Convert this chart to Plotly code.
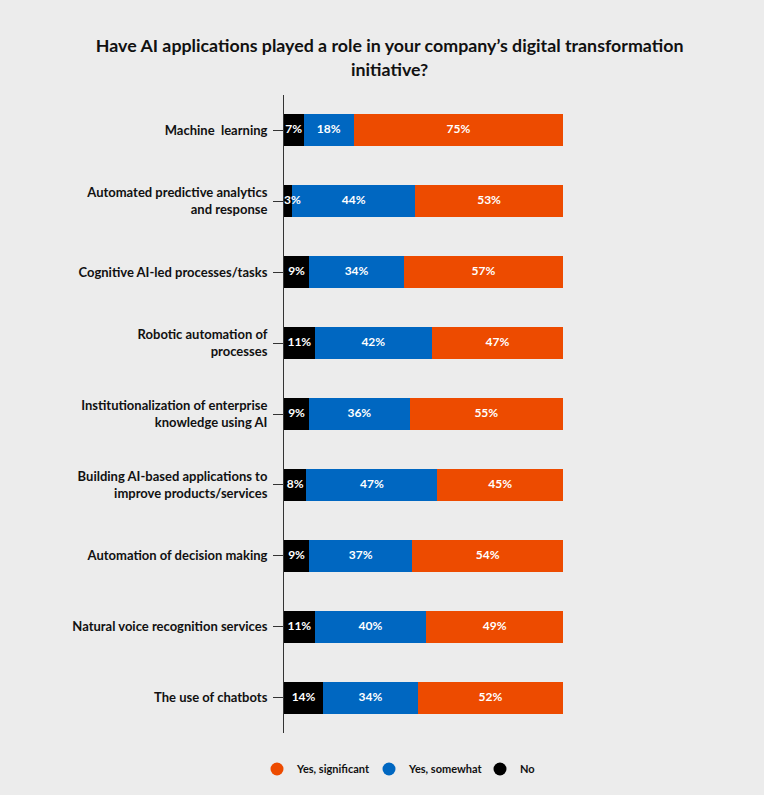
import plotly.graph_objects as go

categories = [
    "Machine  learning",
    "Automated predictive analytics<br>and response",
    "Cognitive AI-led processes/tasks",
    "Robotic automation of<br>processes",
    "Institutionalization of enterprise<br>knowledge using AI",
    "Building AI-based applications to<br>improve products/services",
    "Automation of decision making",
    "Natural voice recognition services",
    "The use of chatbots",
]
no_vals = [7, 3, 9, 11, 9, 8, 9, 11, 14]
somewhat_vals = [18, 44, 34, 42, 36, 47, 37, 40, 34]
significant_vals = [75, 53, 57, 47, 55, 45, 54, 49, 52]

series = [
    ("No", no_vals, "#000000"),
    ("Yes, somewhat", somewhat_vals, "#0067c1"),
    ("Yes, significant", significant_vals, "#ed4b00"),
]

FONT = "Lato"
fig = go.Figure()
base = [0] * len(categories)
label_x, label_y, label_t, label_pos = [], [], [], []
for name, vals, color in series:
    fig.add_trace(go.Bar(
        y=categories, x=vals, orientation="h", name=name,
        marker=dict(color=color, line=dict(width=0)),
        showlegend=False, hoverinfo="skip", width=0.45,
    ))
    for i, v in enumerate(vals):
        if v < 5:
            label_x.append(base[i])
            label_pos.append("middle right")
        else:
            label_x.append(base[i] + v / 2)
            label_pos.append("middle center")
        label_y.append(categories[i])
        label_t.append(f"{v}%")
        base[i] += v

fig.add_trace(go.Scatter(
    x=label_x, y=label_y, text=label_t, mode="text", textposition=label_pos,
    textfont=dict(color="white", size=12, family=FONT, weight="bold"),
    showlegend=False, hoverinfo="skip",
))

legend_names = ["legend", "legend2", "legend3"]
legend_x = [257, 369, 480]
for (name, vals, color), lg in zip(reversed(series), legend_names):
    fig.add_trace(go.Scatter(
        x=[None], y=[None], mode="markers", name=name, legend=lg,
        marker=dict(color=color, size=13, symbol="circle"),
    ))

leg_common = dict(
    orientation="h", xref="container", yref="container", xanchor="left",
    y=26 / 795, yanchor="middle",
    font=dict(family=FONT, size=11, color="#111111", weight="bold"),
    bgcolor="rgba(0,0,0,0)",
)

fig.update_layout(
    width=764, height=795,
    barmode="stack",
    paper_bgcolor="#ececec", plot_bgcolor="#ececec",
    margin=dict(l=284, r=201, t=95, b=62, autoexpand=False),
    title=dict(
        text="Have AI applications played a role in your company\u2019s digital transformation<br>initiative?",
        x=0.51, xanchor="center", y=0.934, yanchor="middle",
        font=dict(family=FONT, size=17.8, color="#111111", weight="bold"),
    ),
    xaxis=dict(range=[0, 100], visible=False, fixedrange=True),
    yaxis=dict(
        autorange=False, showline=True, linecolor="#333333", linewidth=1,
        ticks="outside", ticklen=10, tickcolor="#333333", tickwidth=1,
        ticklabelstandoff=3,
        tickfont=dict(family=FONT, size=13, color="#111111", weight="bold"),
        showgrid=False, zeroline=False, range=[8.5, -0.5],
    ),
    legend=dict(leg_common, x=legend_x[0] / 764),
    legend2=dict(leg_common, x=legend_x[1] / 764),
    legend3=dict(leg_common, x=legend_x[2] / 764),
)
fig.write_html("out.html", config={"displayModeBar": False},
               post_script="document.body.style.margin='0px';")
